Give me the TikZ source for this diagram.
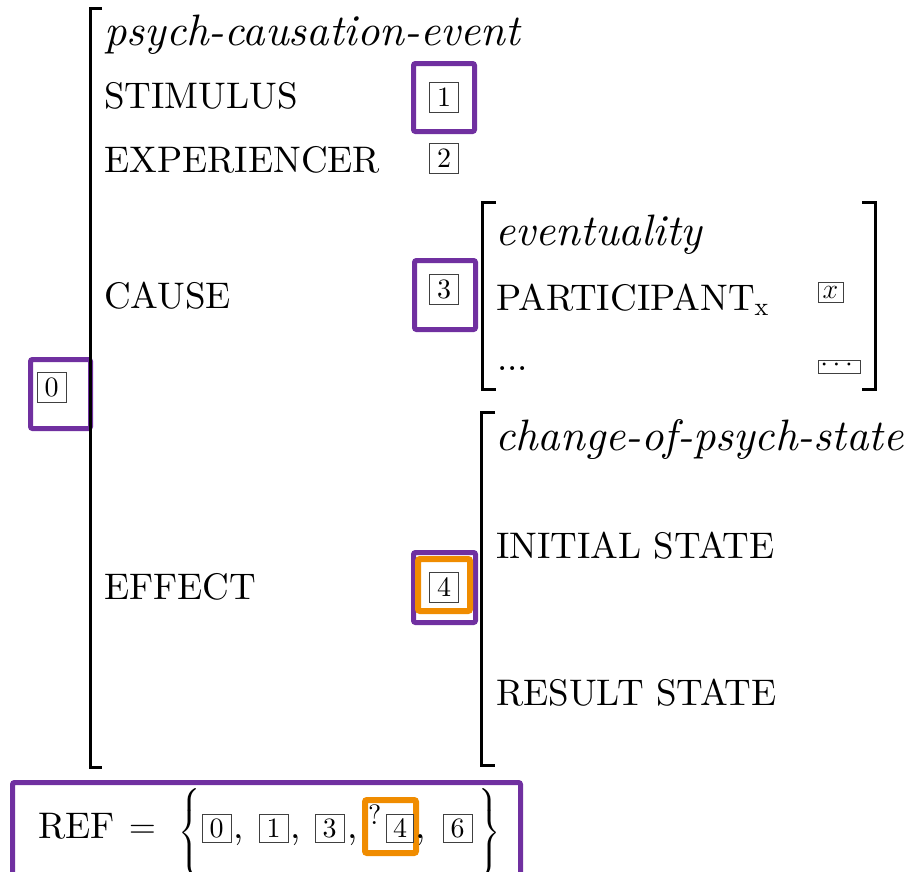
\RequirePackage{fix-cm}
\documentclass[tikz,border=0pt]{standalone}
\usepackage{xcolor}
\usepackage{amsmath}
\usepackage{fontspec}
\setmainfont{lmroman10-regular.otf}[ItalicFont=lmroman10-italic.otf]
\usepackage{tikz}

\definecolor{hlpurple}{RGB}{112,48,160}
\definecolor{hlorange}{RGB}{240,140,0}

\begin{document}
\begin{tikzpicture}[x=1pt, y=-1pt,
        lbl/.style={anchor=base west, inner sep=0pt, font=\fontsize{37}{40}\selectfont},
        typ/.style={anchor=base west, inner sep=0pt, font=\fontsize{44}{48}\selectfont\itshape},
        tagbox/.style={draw=black!75, line width=1pt, inner sep=0pt, minimum width=29pt, minimum height=30pt, font=\fontsize{28}{30}\selectfont},
        hl/.style={draw=hlpurple, line width=5pt, rounded corners=2pt, inner sep=0pt},
        hlo/.style={hl, draw=hlorange, line width=6pt},
        brk/.style={line width=3pt}
    ]
        \useasboundingbox (0,0) rectangle (911,871);
        \clip (0,0) rectangle (911,871);

        % Highlights
        \node[hl, minimum width=60pt, minimum height=69pt] (hl0) at (60.5,394) {};
        \node[hl, minimum width=61pt, minimum height=68pt] (hl1) at (444,97.5) {};
        \node[hl, minimum width=61pt, minimum height=69pt] (hl3) at (445,295) {};
        \node[hl, minimum width=62pt, minimum height=70pt] (hl4) at (444.5,587.5) {};
        \node[hlo, minimum width=52pt, minimum height=52pt] (hl4o) at (444,585) {};
        \node[hl, minimum width=508pt, minimum height=120pt] (hlref) at (266.5,842.5) {};
        \node[hlo, minimum width=51pt, minimum height=53pt] (hlrefo) at (390.5,826.5) {};

        % Brackets
        \draw[brk] (102,8) -- (90,8) -- (90,767) -- (102,767);
        \draw[brk] (496,202) -- (482,202) -- (482,389) -- (496,389);
        \draw[brk] (862,202) -- (875,202) -- (875,389) -- (862,389);
        \draw[brk] (495,412) -- (481,412) -- (481,765) -- (495,765);

        % Outer structure
        \node[tagbox] (tag0) at (51.5,387.5) {0};
        \node[typ] (type0) at (104,45) {psych-causation-event};
        \node[lbl] (stim) at (104,108) {STIMULUS};
        \node[tagbox] (tag1) at (444,97) {1};
        \node[lbl] (exp) at (104,172) {EXPERIENCER};
        \node[tagbox] (tag2) at (444,158) {2};
        \node[lbl] (cause) at (104,308) {CAUSE};
        \node[tagbox] (tag3) at (444,289) {3};
        \node[lbl] (effect) at (104,599) {EFFECT};
        \node[tagbox] (tag4) at (444,587.5) {4};

        % Cause value
        \node[typ] (type3) at (495,245) {eventuality};
        \node[lbl] (part) at (496,310) {PARTICIPANT$_{\mathrm{x}}$};
        \node[tagbox, minimum width=25pt, minimum height=20pt] (tagx) at (830.5,292) {$x$};
        \node[lbl] (more) at (497,370) {...};
        \node[tagbox, minimum width=42pt, minimum height=13pt, text height=9.5pt, text depth=-4.5pt] (tagdots) at (839,366.5) {$\cdots$};

        % Effect value
        \node[typ] (type4) at (495,450) {change-of-psych-state};
        \node[lbl] (init) at (496,558) {INITIAL STATE};
        \node[lbl] (res) at (496,705) {RESULT STATE};

        % Reference set
        \node[lbl] (refname) at (38,838) {REF};
        \node[lbl] (eq) at (129,838) {$=$};
        \node[inner sep=0pt, font=\fontsize{35}{38}\selectfont] (lbr) at (189.5,833) {$\bigg\{$};
        \node[tagbox, minimum height=28pt] (ref0) at (216.5,828) {0};
        \node[lbl] at (233,838) {,};
        \node[tagbox, minimum height=28pt] (ref1) at (273.5,828) {1};
        \node[lbl] at (290,838) {,};
        \node[tagbox, minimum height=28pt] (ref3) at (329.5,828) {3};
        \node[lbl] at (347,838) {,};
        \node[anchor=base west, inner sep=0pt, font=\fontsize{28}{30}\selectfont] (maybe) at (368,824) {?};
        \node[tagbox, minimum width=27pt, minimum height=28pt] (ref4) at (400,828) {4};
        \node[lbl] at (415,838) {,};
        \node[tagbox, minimum height=28pt] (ref6) at (457.5,828) {6};
        \node[inner sep=0pt, font=\fontsize{35}{38}\selectfont] (rbr) at (490,833) {$\bigg\}$};

    \end{tikzpicture}
\end{document}
